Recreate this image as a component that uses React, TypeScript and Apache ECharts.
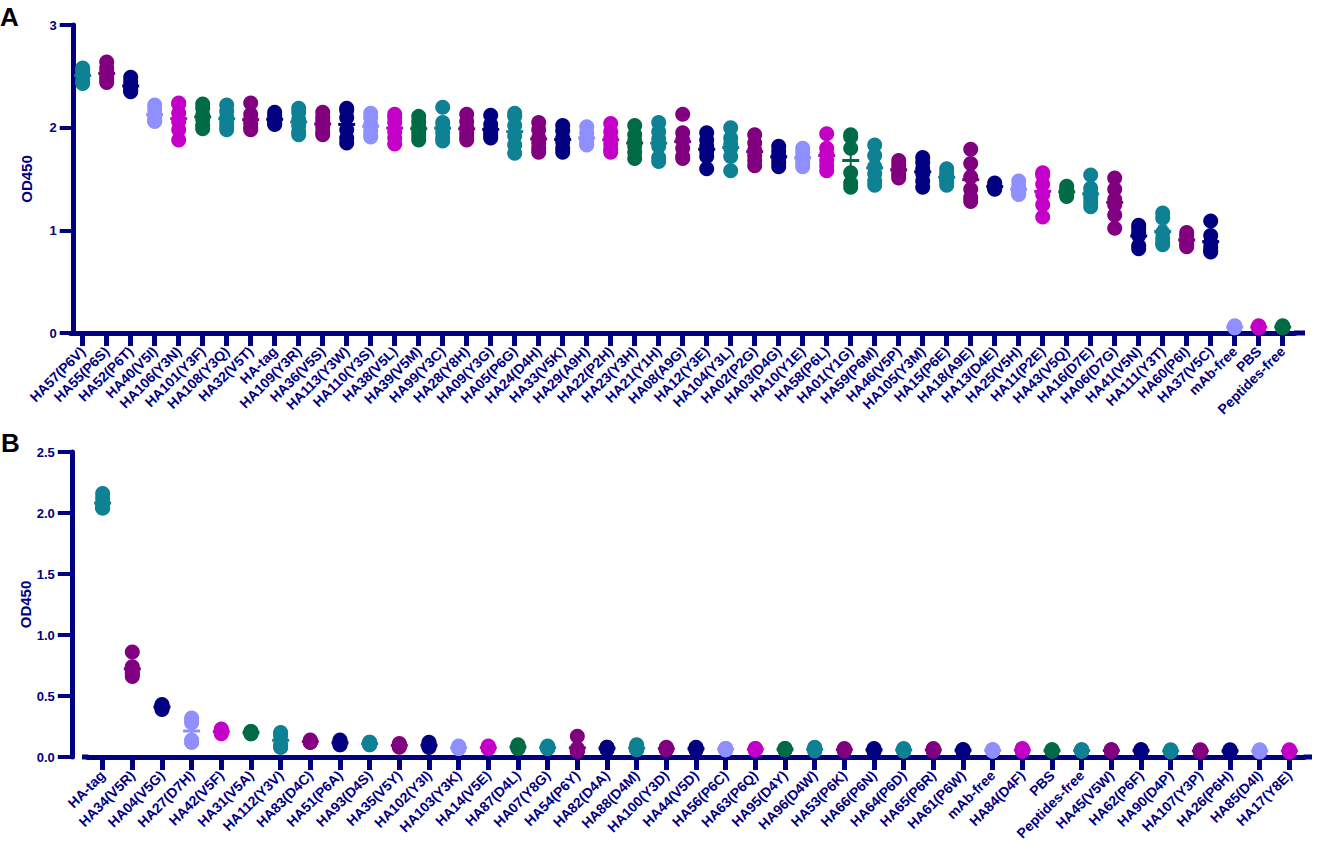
import React, { useEffect, useRef } from "react";
import * as echarts from "echarts";

const catsA = [
  "HA57(P6V)", "HA55(P6S)", "HA52(P6T)", "HA40(V5I)", "HA106(Y3N)", "HA101(Y3F)", "HA108(Y3Q)", "HA32(V5T)",
  "HA-tag", "HA109(Y3R)", "HA36(V5S)", "HA113(Y3W)", "HA110(Y3S)", "HA38(V5L)", "HA39(V5M)", "HA99(Y3C)",
  "HA28(Y8H)", "HA09(Y3G)", "HA05(P6G)", "HA24(D4H)", "HA33(V5K)", "HA29(A9H)", "HA22(P2H)", "HA23(Y3H)",
  "HA21(Y1H)", "HA08(A9G)", "HA12(Y3E)", "HA104(Y3L)", "HA02(P2G)", "HA03(D4G)", "HA10(Y1E)", "HA58(P6L)",
  "HA01(Y1G)", "HA59(P6M)", "HA46(V5P)", "HA105(Y3M)", "HA15(P6E)", "HA18(A9E)", "HA13(D4E)", "HA25(V5H)",
  "HA11(P2E)", "HA43(V5Q)", "HA16(D7E)", "HA06(D7G)", "HA41(V5N)", "HA111(Y3T)", "HA60(P6I)", "HA37(V5C)",
  "mAb-free", "PBS", "Peptides-free",
];

const repsA = [
  [2.58, 2.56, 2.53, 2.50, 2.45, 2.43],
  [2.64, 2.58, 2.54, 2.50, 2.47, 2.44],
  [2.49, 2.45, 2.41, 2.38, 2.36, 2.35],
  [2.22, 2.18, 2.13, 2.10, 2.07, 2.06],
  [2.24, 2.23, 2.14, 2.06, 1.98, 1.88],
  [2.23, 2.19, 2.12, 2.08, 2.02, 1.99],
  [2.22, 2.16, 2.10, 2.05, 2.01, 1.98],
  [2.24, 2.13, 2.08, 2.04, 2.00, 1.98],
  [2.15, 2.12, 2.09, 2.06, 2.04, 2.03],
  [2.19, 2.15, 2.08, 2.02, 1.96, 1.93],
  [2.15, 2.10, 2.06, 2.01, 1.96, 1.93],
  [2.19, 2.17, 2.10, 1.98, 1.90, 1.85],
  [2.14, 2.10, 2.03, 1.97, 1.93, 1.91],
  [2.13, 2.10, 2.05, 1.96, 1.90, 1.84],
  [2.11, 2.06, 2.01, 1.96, 1.92, 1.88],
  [2.20, 2.05, 2.00, 1.95, 1.90, 1.87],
  [2.13, 2.06, 2.00, 1.95, 1.91, 1.88],
  [2.12, 2.03, 1.98, 1.95, 1.92, 1.90],
  [2.14, 2.11, 2.02, 1.92, 1.83, 1.75],
  [2.05, 1.98, 1.90, 1.85, 1.80, 1.76],
  [2.02, 1.97, 1.90, 1.86, 1.80, 1.76],
  [2.01, 1.95, 1.90, 1.87, 1.84, 1.83],
  [2.04, 1.96, 1.90, 1.84, 1.79, 1.76],
  [2.02, 1.93, 1.87, 1.82, 1.76, 1.70],
  [2.05, 1.96, 1.89, 1.82, 1.71, 1.67],
  [2.13, 1.95, 1.88, 1.80, 1.72, 1.70],
  [1.95, 1.88, 1.82, 1.77, 1.72, 1.60],
  [2.00, 1.90, 1.84, 1.80, 1.72, 1.58],
  [1.93, 1.85, 1.78, 1.73, 1.68, 1.63],
  [1.82, 1.77, 1.73, 1.70, 1.66, 1.62],
  [1.80, 1.76, 1.72, 1.69, 1.65, 1.62],
  [1.94, 1.80, 1.74, 1.68, 1.63, 1.58],
  [1.93, 1.91, 1.80, 1.56, 1.46, 1.42],
  [1.83, 1.73, 1.62, 1.55, 1.48, 1.44],
  [1.68, 1.64, 1.60, 1.57, 1.54, 1.51],
  [1.71, 1.66, 1.60, 1.55, 1.48, 1.42],
  [1.60, 1.56, 1.53, 1.50, 1.47, 1.44],
  [1.79, 1.65, 1.52, 1.40, 1.32, 1.28],
  [1.46, 1.44, 1.43, 1.42, 1.41, 1.40],
  [1.48, 1.43, 1.40, 1.38, 1.36, 1.35],
  [1.56, 1.54, 1.45, 1.35, 1.25, 1.13],
  [1.43, 1.40, 1.38, 1.36, 1.35, 1.33],
  [1.54, 1.41, 1.36, 1.32, 1.27, 1.23],
  [1.51, 1.40, 1.30, 1.25, 1.15, 1.02],
  [1.05, 1.02, 0.98, 0.95, 0.85, 0.82],
  [1.17, 1.12, 0.98, 0.92, 0.88, 0.86],
  [0.98, 0.95, 0.92, 0.89, 0.86, 0.84],
  [1.09, 0.95, 0.88, 0.83, 0.80, 0.79],
  [0.07, 0.06, 0.06, 0.06, 0.05, 0.05],
  [0.07, 0.06, 0.06, 0.06, 0.05, 0.05],
  [0.07, 0.06, 0.06, 0.06, 0.05, 0.05],
];

const catsB = [
  "HA-tag", "HA34(V5R)", "HA04(V5G)", "HA27(D7H)", "HA42(V5F)", "HA31(V5A)", "HA112(Y3V)", "HA83(D4C)",
  "HA51(P6A)", "HA93(D4S)", "HA35(V5Y)", "HA102(Y3I)", "HA103(Y3K)", "HA14(V5E)", "HA87(D4L)", "HA07(Y8G)",
  "HA54(P6Y)", "HA82(D4A)", "HA88(D4M)", "HA100(Y3D)", "HA44(V5D)", "HA56(P6C)", "HA63(P6Q)", "HA95(D4Y)",
  "HA96(D4W)", "HA53(P6K)", "HA66(P6N)", "HA64(P6D)", "HA65(P6R)", "HA61(P6W)", "mAb-free", "HA84(D4F)",
  "PBS", "Peptides-free", "HA45(V5W)", "HA62(P6F)", "HA90(D4P)", "HA107(Y3P)", "HA26(P6H)", "HA85(D4I)",
  "HA17(Y8E)",
];

const repsB = [
  [2.16, 2.12, 2.08, 2.05, 2.04, 2.04],
  [0.86, 0.74, 0.71, 0.69, 0.68, 0.66],
  [0.43, 0.42, 0.41, 0.41, 0.40, 0.39],
  [0.32, 0.30, 0.28, 0.14, 0.12, 0.12],
  [0.23, 0.22, 0.21, 0.20, 0.20, 0.19],
  [0.21, 0.21, 0.20, 0.20, 0.19, 0.19],
  [0.20, 0.19, 0.17, 0.10, 0.08, 0.08],
  [0.14, 0.13, 0.13, 0.12, 0.12, 0.12],
  [0.14, 0.13, 0.12, 0.11, 0.10, 0.10],
  [0.12, 0.12, 0.11, 0.11, 0.10, 0.10],
  [0.11, 0.10, 0.10, 0.09, 0.09, 0.08],
  [0.12, 0.11, 0.10, 0.09, 0.08, 0.08],
  [0.09, 0.08, 0.08, 0.07, 0.07, 0.07],
  [0.09, 0.08, 0.08, 0.07, 0.07, 0.07],
  [0.10, 0.09, 0.08, 0.08, 0.07, 0.07],
  [0.09, 0.08, 0.08, 0.07, 0.07, 0.07],
  [0.17, 0.07, 0.06, 0.05, 0.05, 0.05],
  [0.08, 0.08, 0.07, 0.07, 0.07, 0.06],
  [0.10, 0.08, 0.07, 0.07, 0.06, 0.06],
  [0.08, 0.07, 0.07, 0.07, 0.06, 0.06],
  [0.08, 0.07, 0.07, 0.07, 0.06, 0.06],
  [0.07, 0.07, 0.07, 0.06, 0.06, 0.06],
  [0.07, 0.07, 0.06, 0.06, 0.06, 0.06],
  [0.07, 0.07, 0.06, 0.06, 0.06, 0.06],
  [0.08, 0.07, 0.06, 0.06, 0.06, 0.05],
  [0.07, 0.06, 0.06, 0.06, 0.06, 0.05],
  [0.07, 0.06, 0.06, 0.06, 0.05, 0.05],
  [0.07, 0.06, 0.06, 0.06, 0.05, 0.05],
  [0.07, 0.06, 0.06, 0.06, 0.05, 0.05],
  [0.06, 0.06, 0.06, 0.05, 0.05, 0.05],
  [0.06, 0.06, 0.06, 0.05, 0.05, 0.05],
  [0.07, 0.06, 0.06, 0.05, 0.05, 0.05],
  [0.06, 0.06, 0.05, 0.05, 0.05, 0.05],
  [0.06, 0.06, 0.05, 0.05, 0.05, 0.05],
  [0.06, 0.06, 0.05, 0.05, 0.05, 0.05],
  [0.06, 0.06, 0.05, 0.05, 0.05, 0.05],
  [0.06, 0.05, 0.05, 0.05, 0.05, 0.04],
  [0.06, 0.05, 0.05, 0.05, 0.05, 0.04],
  [0.06, 0.05, 0.05, 0.05, 0.05, 0.04],
  [0.06, 0.05, 0.05, 0.05, 0.05, 0.04],
  [0.06, 0.05, 0.05, 0.05, 0.05, 0.04],
];

const palette = ["#0E8194", "#800080", "#000080", "#8F8FFF", "#C400C8", "#006B45"];
const colorCycle = [0, 1, 2, 3, 4, 5, 0, 1, 2];

const NAVY = "#000080";
const FONT = "'Liberation Sans', Arial, sans-serif";

const colorAt = (i: number) => palette[colorCycle[i % colorCycle.length]];

function toPoints(reps: number[][]) {
  const out: number[][] = [];
  reps.forEach((r, i) => r.forEach((v) => out.push([i, v])));
  return out;
}

function toStats(reps: number[][]) {
  return reps.map((r, i) => {
    const n = r.length;
    const m = r.reduce((a, b) => a + b, 0) / n;
    const sd = Math.sqrt(r.reduce((a, b) => a + (b - m) * (b - m), 0) / (n - 1));
    return [i, m, sd / Math.sqrt(n)];
  });
}

const errRender = (params: any, api: any) => {
  const i = api.value(0);
  const m = api.value(1);
  const s = api.value(2);
  const c = api.coord([i, m]);
  const hi = api.coord([i, m + s]);
  const lo = api.coord([i, m - s]);
  const col = colorAt(i);
  const st = { stroke: col, lineWidth: 2 };
  return {
    type: "group",
    children: [
      { type: "line", shape: { x1: c[0], y1: lo[1], x2: c[0], y2: hi[1] }, style: st },
      { type: "line", shape: { x1: c[0] - 4.5, y1: hi[1], x2: c[0] + 4.5, y2: hi[1] }, style: st },
      { type: "line", shape: { x1: c[0] - 4.5, y1: lo[1], x2: c[0] + 4.5, y2: lo[1] }, style: st },
      { type: "line", shape: { x1: c[0] - 8.5, y1: c[1], x2: c[0] + 8.5, y2: c[1] }, style: { stroke: col, lineWidth: 3 } },
    ],
  };
};

function xAxisCfg(gridIndex: number, data: string[]) {
  return {
    type: "category",
    gridIndex,
    data,
    boundaryGap: true,
    axisLine: { show: true, lineStyle: { color: NAVY, width: 5 } },
    axisTick: { show: true, alignWithLabel: true, length: 13, lineStyle: { color: NAVY, width: 5 } },
    axisLabel: {
      interval: 0,
      rotate: 45,
      margin: 16,
      color: NAVY,
      fontFamily: FONT,
      fontWeight: "bold",
      fontSize: 14,
    },
    splitLine: { show: false },
  };
}

function yAxisCfg(gridIndex: number, max: number, interval: number, offset: number, decimals: number, nameGap: number) {
  return {
    type: "value",
    gridIndex,
    min: 0,
    max,
    interval,
    offset,
    name: "OD450",
    nameLocation: "middle",
    nameGap,
    nameMoveOverlap: false,
    nameTextStyle: { color: NAVY, fontFamily: FONT, fontWeight: "bold", fontSize: 15 },
    axisLine: { show: true, lineStyle: { color: NAVY, width: 5 } },
    axisTick: { show: true, length: 14, lineStyle: { color: NAVY, width: 4 } },
    axisLabel: {
      margin: 17,
      color: NAVY,
      fontFamily: FONT,
      fontWeight: "bold",
      fontSize: 13,
      formatter: (v: number) => v.toFixed(decimals),
    },
    splitLine: { show: false },
  };
}

export default function App() {
  const ref = useRef<HTMLDivElement>(null);

  useEffect(() => {
    if (!ref.current) return;
    const chart = echarts.init(ref.current, null, { renderer: "svg" });

    const gridA = { left: 70.7, top: 25, width: 1224, height: 308 };
    const gridB = { left: 87.8, top: 452, width: 1216.4, height: 305 };

    const option: any = {
      animation: false,
      backgroundColor: "#ffffff",
      textStyle: { fontFamily: FONT },
      grid: [gridA, gridB],
      xAxis: [xAxisCfg(0, catsA), xAxisCfg(1, catsB)],
      yAxis: [yAxisCfg(0, 3, 1, -3, 0, 40), yAxisCfg(1, 2.5, 0.5, 16, 1, 38.5)],
      graphic: [
        { type: "text", left: 0, top: 4, style: { text: "A", fill: "#000", font: `bold 26px ${FONT}` } },
        { type: "text", left: 1, top: 430, style: { text: "B", fill: "#000", font: `bold 26px ${FONT}` } },
        { type: "line", shape: { x1: 1294, y1: 333, x2: 1305, y2: 333 }, style: { stroke: NAVY, lineWidth: 5 } },
        { type: "line", shape: { x1: 82, y1: 757, x2: 88.5, y2: 757 }, style: { stroke: NAVY, lineWidth: 5 } },
        { type: "line", shape: { x1: 1303.5, y1: 757, x2: 1312, y2: 757 }, style: { stroke: NAVY, lineWidth: 5 } },
      ],
      series: [
        {
          type: "scatter",
          xAxisIndex: 0,
          yAxisIndex: 0,
          data: toPoints(repsA),
          symbol: "circle",
          symbolSize: 15,
          itemStyle: { color: (p: any) => colorAt(p.value[0]), opacity: 1 },
          z: 3,
        },
        {
          type: "custom",
          xAxisIndex: 0,
          yAxisIndex: 0,
          data: toStats(repsA),
          renderItem: errRender,
          encode: { x: 0, y: 1 },
          z: 4,
        },
        {
          type: "scatter",
          xAxisIndex: 1,
          yAxisIndex: 1,
          data: toPoints(repsB),
          symbol: "circle",
          symbolSize: 15,
          itemStyle: { color: (p: any) => colorAt(p.value[0]), opacity: 1 },
          z: 3,
        },
        {
          type: "custom",
          xAxisIndex: 1,
          yAxisIndex: 1,
          data: toStats(repsB),
          renderItem: errRender,
          encode: { x: 0, y: 1 },
          z: 4,
        },
      ],
    };

    chart.setOption(option);
    return () => chart.dispose();
  }, []);

  return (
    <div
      ref={ref}
      style={{ position: "absolute", left: 0, top: 0, width: 1317, height: 845, background: "#fff" }}
    />
  );
}
